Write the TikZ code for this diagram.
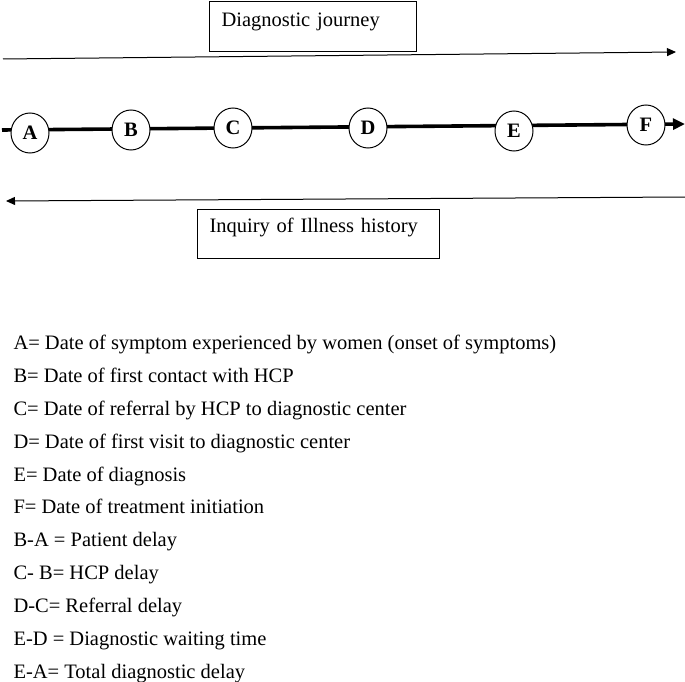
\documentclass[tikz,border=0pt]{standalone}
\usepackage{fontspec}
\setmainfont{Liberation Serif}
\usetikzlibrary{arrows.meta,shapes.geometric}

\begin{document}
\begin{tikzpicture}[x=1pt,y=-1pt,line width=1pt,
  stage/.style={draw,fill=white,ellipse,minimum width=38pt,minimum height=40pt,inner sep=0pt,
    font=\fontsize{20.5}{22}\selectfont\bfseries},
  labelbox/.style={draw,align=left,inner xsep=12pt,inner ysep=3pt,
    font=\fontsize{20.5}{24}\selectfont},
  legend/.style={anchor=base west,inner sep=0pt,font=\fontsize{20.5}{24}\selectfont}]
\useasboundingbox (0,0) rectangle (685,682);
%
\node[labelbox,anchor=north west,text width=183pt,text height=22pt,text depth=22pt]
  (journey) at (209,1) {Diagnostic journey};
\coordinate (jstart) at (3,59);
\coordinate (jend) at (676,52);
\draw[-{Triangle[length=9pt,width=8pt]}] (jstart) -- (jend);
%
\coordinate (tstart) at (2,130);
\coordinate (tend) at (685,124);
\draw[line width=3.6pt,-{Triangle[length=12pt,width=11pt]}] (tstart) -- (tend);
\node[stage] (A) at (30,133) {A};
\node[stage] (B) at (131,130) {B};
\node[stage] (C) at (233,128) {C};
\node[stage] (D) at (368,128) {D};
\node[stage] (E) at (514,131) {E};
\node[stage] (F) at (646,125) {F};
%
\coordinate (istart) at (685,197);
\coordinate (iend) at (6,201);
\draw[-{Triangle[length=9pt,width=8pt]}] (istart) -- (iend);
\node[labelbox,anchor=north west,text width=218pt,text height=20pt,text depth=23pt]
  (inquiry) at (197,209) {Inquiry of Illness history};
%
\node[legend] (legA) at (13,349) {A= Date of symptom experienced by women (onset of symptoms)};
\node[legend] (legB) at (13,382) {B= Date of first contact with HCP};
\node[legend] (legC) at (13,415) {C= Date of referral by HCP to diagnostic center};
\node[legend] (legD) at (13,448) {D= Date of first visit to diagnostic center};
\node[legend] (legE) at (13,481) {E= Date of diagnosis};
\node[legend] (legF) at (13,513) {F= Date of treatment initiation};
\node[legend] (legBA) at (13,546) {B-A = Patient delay};
\node[legend] (legCB) at (13,579) {C- B= HCP delay};
\node[legend] (legDC) at (13,612) {D-C= Referral delay};
\node[legend] (legED) at (13,645) {E-D = Diagnostic waiting time};
\node[legend] (legEA) at (13,678) {E-A= Total diagnostic delay};
\end{tikzpicture}
\end{document}
